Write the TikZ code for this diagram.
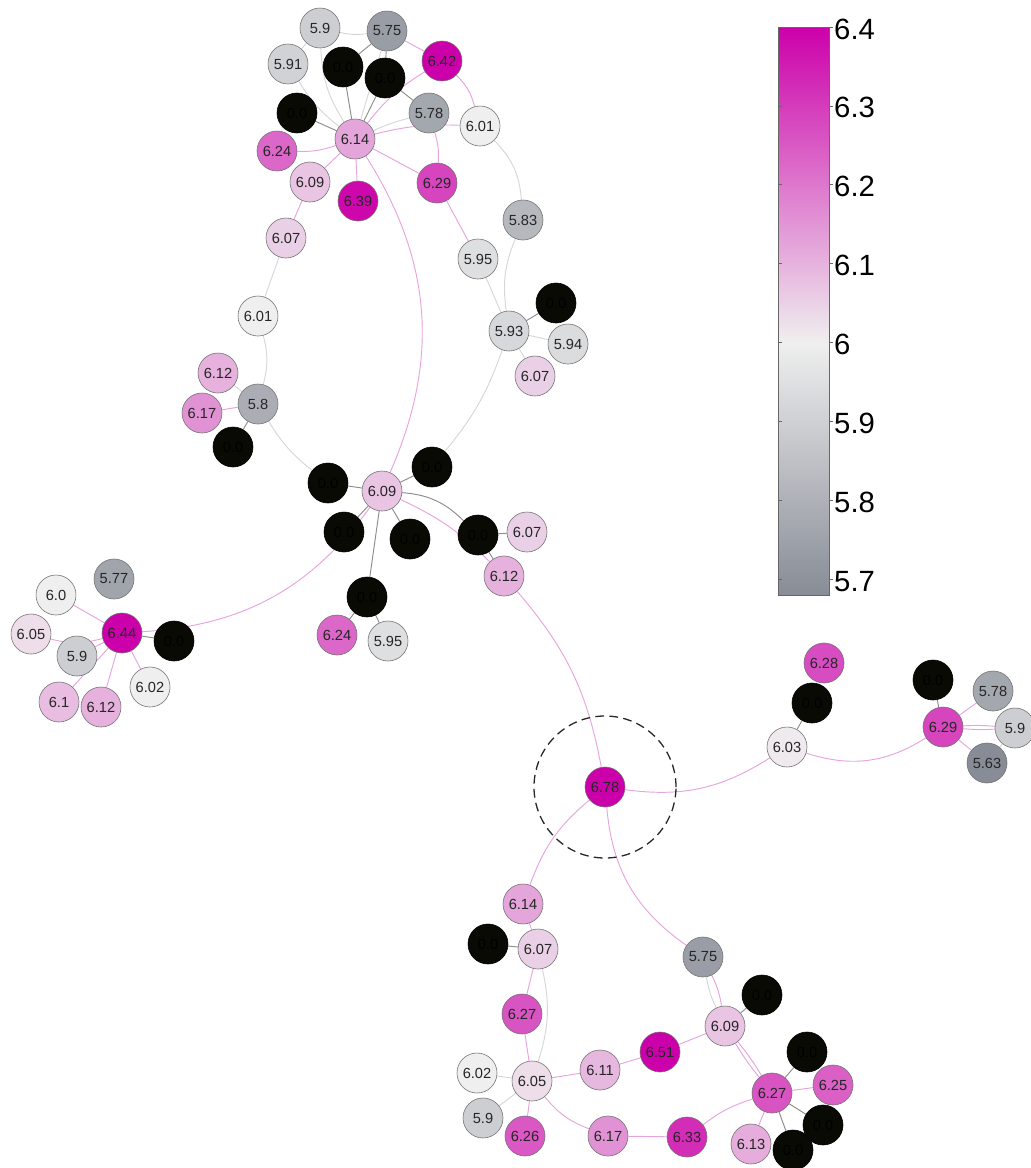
\documentclass[tikz,border=0pt]{standalone}
\usepackage{fontspec}
\setmainfont{Liberation Sans}
\usepackage{xcolor}
\usepackage{tikz}
\usetikzlibrary{backgrounds}
\definecolor{VMag}{HTML}{CC00AA}
\definecolor{VWhite}{HTML}{EFEFEF}
\definecolor{VGray}{HTML}{878C96}
\definecolor{VZero}{HTML}{0A0A05}
\definecolor{VEdgeP}{HTML}{E6A3DE}
\definecolor{VEdgeL}{HTML}{D6D6D8}
\definecolor{VEdgeK}{HTML}{8C8C8C}

\begin{document}
\begin{tikzpicture}[
  x=0.03cm,y=-0.03cm,
  v/.style={circle,draw=black!55,line width=0.5pt,minimum size=1.2cm,inner sep=0pt,
    font=\fontsize{12.5}{13}\selectfont,text=black!85},
  zero/.style={v,fill=VZero,draw=black,text=black},
  ep/.style={draw=VEdgeP,line width=0.8pt},
  el/.style={draw=VEdgeL,line width=0.8pt},
  ek/.style={draw=VEdgeK,line width=0.8pt},
  ring/.style={circle,draw=black!85,line width=1.1pt,dash pattern=on 7.5pt off 4.5pt,
    minimum size=4.26cm,inner sep=0pt},
  cblabel/.style={font=\fontsize{25}{26}\selectfont,anchor=west,inner sep=0pt}
]
  \useasboundingbox (0,0) rectangle (1031,1168);
  \foreach \n/\x/\y/\v in {
    t590/320/28/5.9, t575/387/31/5.75, t591/288/64/5.91, t642/442/61/6.42,
    t578/429/113/5.78, t601/480/126/6.01, t614/355/139/6.14, t624/277/151/6.24,
    t609/310/182/6.09, t639/358/201/6.39, t629/437/183/6.29, t607/286/238/6.07,
    t583/523/220/5.83, t595/478/259/5.95, t593/509/331/5.93, t594/568/344/5.94,
    t607b/535/376/6.07, t601b/258/316/6.01, t612/218/373/6.12, t617/202/413/6.17,
    t580/258/404/5.8,
    m609/382/491/6.09, m607/527/532/6.07, m612/504/576/6.12, m624/337/635/6.24,
    m595/388/641/5.95,
    l577/114/579/5.77, l600/56/595/6.0, l605/31/634/6.05, l644/122/633/6.44,
    l590/77/656/5.9, l602/150/687/6.02, l610/59/702/6.1, l612/101/707/6.12,
    c678/605/787/6.78,
    r628/824/663/6.28, r603/787/747/6.03, r578/993/691/5.78, r629/943/727/6.29,
    r590/1015/728/5.9, r563/987/763/5.63,
    b614/523/904/6.14, b607/538/949/6.07, b627/522/1014/6.27, b575/703/957/5.75,
    b609/725/1026/6.09, b651/660/1052/6.51, b611/600/1070/6.11, b602/477/1073/6.02,
    b605/532/1081/6.05, b590/483/1118/5.9, b626/525/1136/6.26, b617/608/1136/6.17,
    b633/687/1137/6.33, b627h/772/1093/6.27, b625/833/1085/6.25, b613/751/1144/6.13}
  {
    \pgfmathtruncatemacro\pm{min(100,max(0,(\v-6.02)*263))}
    \pgfmathtruncatemacro\pg{min(100,max(0,(6-\v)*1000/3))}
    \ifdim\v pt<6pt \colorlet{vfill}{VGray!\pg!VWhite}\else\colorlet{vfill}{VMag!\pm!VWhite}\fi
    \node[v,fill=vfill] (\n) at (\x,\y) {\v};
  }
  \foreach \n/\x/\y in {z1/343/67, z2/385/78, z3/297/113, z4/556/303, z5/233/447,
    z6/328/483, z7/432/467, z8/344/532, z9/410/539, z10/478/535, z11/367/597,
    z12/174/641, z13/812/703, z14/933/680, z15/488/944, z16/762/995, z17/807/1052,
    z18/823/1125, z19/793/1150}
    {\node[zero] (\n) at (\x,\y) {0.0};}
  \node[ring] (halo) at (c678) {};

  \begin{scope}[on background layer]
    \foreach \a/\b/\bd in {t614/t642/10, t575/t642/0, t642/t601/15, t614/t601/8,
      t578/t629/10, t614/t629/0, t614/t639/0, t614/t624/10, t614/t609/0, t609/t607/0,
      t614/m609/28, t629/t595/0, t617/t580/0, m609/m612/10, m609/l644/25,
      m612/c678/15, c678/r603/-20, r603/r629/-25, c678/b614/-15, c678/b575/-25,
      r629/r578/0, r629/r590/4, r629/r590/-4, r629/r563/0,
      l644/l600/0, l644/l605/15, l644/l590/0, l644/l610/0, l644/l612/0, l644/l602/0,
      b614/b607/0, b607/b627/0, b627/b605/0, b605/b626/0, b605/b611/0, b605/b617/-15,
      b611/b651/0, b651/b609/0, b609/b575/-8, b609/b627h/4, b609/b627h/-4,
      b617/b633/0, b633/b627h/10, b627h/b625/0, b627h/b613/0}
      {\draw[ep] (\a) to[bend left=\bd] (\b);}
    \foreach \a/\b/\bd in {t590/t575/-10, t591/t590/0, t590/t614/-15, t591/t614/-10,
      t614/t575/0, t614/t578/5, t601/t583/20, t583/t593/-15, t595/t593/0, t593/t594/0,
      t593/t607b/0, t593/z7/10, t607/t601b/0, t601b/t580/15, t612/t580/0,
      t580/z6/-10, r590/r563/0, b607/b605/15, b605/b602/0, b605/b590/0, b609/b575/8}
      {\draw[el] (\a) to[bend left=\bd] (\b);}
    \foreach \a/\b/\bd in {t614/z1/0, t614/z2/0, t575/z1/0, t575/z2/0, z2/t578/0,
      t614/z3/0, t593/z4/0, t580/z5/0, m609/z6/0, m609/z7/0, m609/z8/0, m609/z9/0,
      m609/z10/20, m609/z11/0, z10/m607/0, z10/m612/0, z11/m624/0, z11/m595/0,
      l644/z12/0, r603/z13/0, r629/z14/0, b607/z15/0, b609/z16/0, b627h/z17/0,
      b627h/z18/0, b627h/z19/0}
      {\draw[ek] (\a) to[bend left=\bd] (\b);}
  \end{scope}

  \shade[top color=VMag,bottom color=VWhite] (778,27) rectangle (829,343);
  \shade[top color=VWhite,bottom color=VGray] (778,343) rectangle (829,595);
  \draw[black!60,line width=0.6pt] (778,27) rectangle (829,595);
  \foreach \k/\t in {0/6.4,1/6.3,2/6.2,3/6.1,4/6,5/5.9,6/5.8,7/5.7}{
    \draw[black!60,line width=0.6pt] (778,27+\k*78.9) -- ++(4,0) (829,27+\k*78.9) -- ++(4,0);
    \node[cblabel] (cb\k) at (834,29+\k*78.9) {\t};
  }
\end{tikzpicture}
\end{document}
